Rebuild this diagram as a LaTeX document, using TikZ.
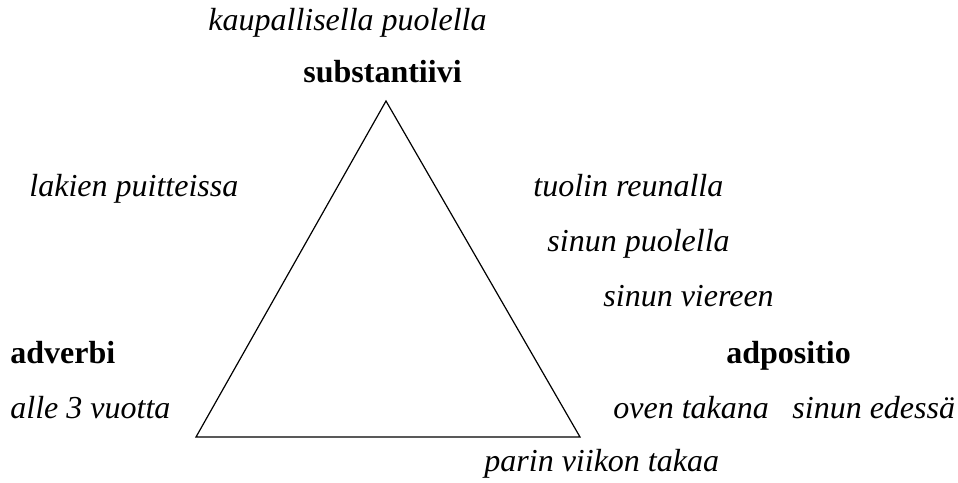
\documentclass[tikz,border=0pt]{standalone}
\usepackage{fontspec}
\setmainfont{Liberation Serif}
\tikzset{
    ex/.style={anchor=base west, inner sep=0pt, font=\fontsize{16}{19}\selectfont\itshape},
    word/.style={anchor=base west, inner sep=0pt, font=\fontsize{16}{19}\selectfont\bfseries}
}
\begin{document}
\begin{tikzpicture}[x=0.5pt,y=-0.5pt]
    \useasboundingbox (0,0) rectangle (958,482);

    \coordinate (top) at (386,101);
    \coordinate (left) at (196,437);
    \coordinate (right) at (580,437);
    \draw[line width=0.6pt] (top) -- (left) -- (right) -- cycle;

    \node[word] (subst) at (303,82) {substantiivi};
    \node[word] (adverbi) at (10,363) {adverbi};
    \node[word] (adpos) at (726,363) {adpositio};

    \node[ex] (kaup) at (208,31) {kaupallisella puolella};
    \node[ex] (lakien) at (29,196) {lakien puitteissa};
    \node[ex] (tuolin) at (533,196) {tuolin reunalla};
    \node[ex] (sinpuol) at (547,251) {sinun puolella};
    \node[ex] (sinvier) at (603,306) {sinun viereen};
    \node[ex] (alle) at (10,418) {alle 3 vuotta};
    \node[ex] (oven) at (613,418) {oven takana};
    \node[ex] (edessa) at (792,418) {sinun edessä};
    \node[ex] (parin) at (484,471) {parin viikon takaa};

\end{tikzpicture}
\end{document}
